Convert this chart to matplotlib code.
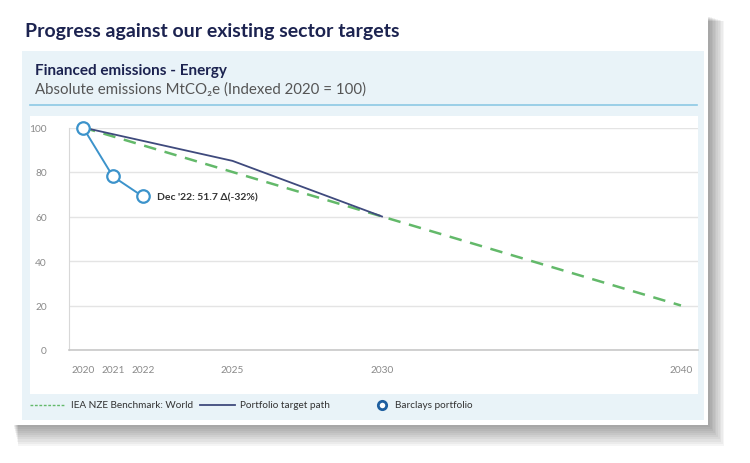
import matplotlib
matplotlib.use("Agg")
import matplotlib.pyplot as plt
from matplotlib.patches import Rectangle
from matplotlib.lines import Line2D

plt.rcParams['font.family'] = ['Lato', 'DejaVu Sans']

# data
bench_years = [2020, 2030, 2040]
bench_vals = [100, 60, 20]
target_years = [2020, 2025, 2030]
target_vals = [100, 85, 60]
barclays_years = [2020, 2021, 2022]
barclays_vals = [100, 78, 69]
xticks = [2020, 2021, 2022, 2025, 2030, 2040]
yticks = [0, 20, 40, 60, 80, 100]

W, H = 750, 464
fig = plt.figure(figsize=(W / 100, H / 100), dpi=100)


def box(x0, y0, x1, y1, z, **kw):
    # rectangle given in pixel coords (top-left origin), kept behind the axes
    r = Rectangle((x0 / W, 1 - y1 / H), (x1 - x0) / W, (y1 - y0) / H,
                  transform=fig.transFigure, zorder=z, **kw)
    fig.add_artist(r)
    return r


# drop shadow of the card
for i in range(10):
    g = i * 1.6
    box(14 + g * 0.3, 18 + g * 0.3, 710 + g, 428 + g * 1.3, -10,
        facecolor='black', edgecolor='none', alpha=0.04)
box(12, 14, 708, 426, -5, facecolor='white', edgecolor='none')
box(22, 52, 704, 421, -4, facecolor='#e9f3f8', edgecolor='none')
box(30, 117, 698, 395, -3, facecolor='white', edgecolor='none')
fig.add_artist(Line2D([30 / W, 697 / W], [1 - 106 / H] * 2, transform=fig.transFigure,
                      color='#8cc8e4', lw=1.2, zorder=-2))

fig.text(25 / W, 1 - 31 / H, 'Progress against our existing sector targets',
         fontsize=14, fontweight='bold', color='#1c2350', va='center')
fig.text(35 / W, 1 - 71 / H, 'Financed emissions - Energy',
         fontsize=11, fontweight='bold', color='#1c2350', va='center')
fig.text(35 / W, 1 - 90 / H, 'Absolute emissions MtCO\u2082e (Indexed 2020 = 100)',
         fontsize=10.8, color='#555555', va='center')

# axes placed so that 2020 -> x=83px, 2030 -> x=382px, 0 -> y=351px, 100 -> y=128.5px
ax = fig.add_axes([69 / W, 1 - 351 / H, 629 / W, 222.5 / H])
ax.set_facecolor('none')
ax.set_xlim(2019.53, 2040.57)
ax.set_ylim(0, 100)
ax.set_xticks(xticks)
ax.set_yticks(yticks)
ax.tick_params(length=0, labelsize=7.3, labelcolor='#8a8a8a')
ax.tick_params(axis='x', pad=11)
ax.tick_params(axis='y', pad=16)
ax.grid(axis='y', color='#e4e4e4', lw=1)
ax.set_axisbelow(True)
for s in ['top', 'right']:
    ax.spines[s].set_visible(False)
ax.spines['left'].set_color('#d8d8d8')
ax.spines['bottom'].set_color('#c8c8c8')
ax.spines['bottom'].set_linewidth(1.2)

ax.plot(bench_years, bench_vals, color='#63b96a', lw=1.8, dashes=(5, 3.5), zorder=3)
ax.plot(target_years, target_vals, color='#3f4a7d', lw=1.3, zorder=4)
ax.plot(barclays_years, barclays_vals, color='#3c93cb', lw=1.4, marker='o', ms=9,
        mfc='white', mec='#3c93cb', mew=1.6, zorder=5, clip_on=False)
ax.annotate("Dec '22: 51.7 \u0394(-32%)", (barclays_years[-1], barclays_vals[-1]),
            xytext=(10, 0), textcoords='offset points', va='center',
            fontsize=7.5, fontweight='bold', color='#333333')

# legend drawn below the white chart area
ly = 1 - 406 / H
fig.add_artist(Line2D([30 / W, 65 / W], [ly, ly], transform=fig.transFigure,
                      color='#63b96a', lw=1, dashes=(2, 1.2)))
fig.text(71 / W, ly, 'IEA NZE Benchmark: World', fontsize=7.2, color='#333333', va='center')
fig.add_artist(Line2D([200 / W, 235 / W], [ly, ly], transform=fig.transFigure,
                      color='#3f4a7d', lw=1.3))
fig.text(240 / W, ly, 'Portfolio target path', fontsize=7.2, color='#333333', va='center')
fig.add_artist(Line2D([382 / W], [ly], transform=fig.transFigure, marker='o', ms=6,
                      mfc='white', mec='#1f5fa0', mew=2))
fig.text(395 / W, ly, 'Barclays portfolio', fontsize=7.2, color='#333333', va='center')

fig.savefig('out.png', dpi=100)
